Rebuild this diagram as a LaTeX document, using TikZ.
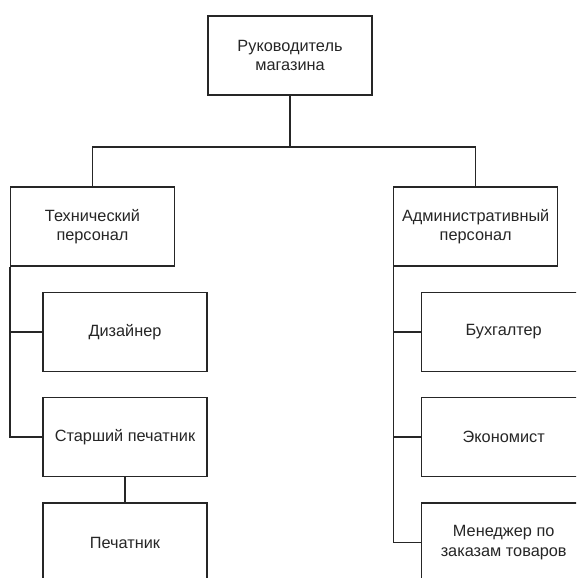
\documentclass[tikz,border=0pt]{standalone}
\usepackage{fontspec}
\setmainfont{Liberation Sans}

\tikzset{
    post/.style={draw=black!85, line width=1.2pt, minimum width=164pt,
        minimum height=79pt, align=center, text=black!85,
        font=\fontsize{16.3}{19.5}\selectfont, inner sep=0pt},
    link/.style={draw=black!85, line width=1.2pt}
}

\begin{document}
\begin{tikzpicture}[x=1pt, y=-1pt]
    \clip (0, 0) rectangle (576, 578);
    \fill[white] (0, 0) rectangle (576, 578);

    \node[post] (boss) at (290, 55.5) {Руководитель\\магазина};

    \node[post] (tech)  at (92.5, 226.5)  {Технический\\персонал};
    \node[post] (admin) at (475.7, 226.5) {Административный\\персонал};

    \node[post] (designer) at (125, 332)   {Дизайнер};
    \node[post] (senior)   at (125, 437)   {Старший печатник};
    \node[post] (printer)  at (125, 542.5) {Печатник};

    \node[post] (accountant) at (503.7, 332)   {Бухгалтер};
    \node[post] (economist)  at (503.7, 437)   {Экономист};
    \node[post] (manager)    at (503.7, 542.5) {Менеджер по\\заказам товаров};

    \coordinate (hub) at (290, 147);
    \draw[link] (boss.south) -- (hub);
    \draw[link] (tech.north) |- (hub) -| (admin.north);

    \draw[link] (tech.south west) |- (senior.west);
    \draw[link] (tech.south west |- designer.west) -- (designer.west);
    \draw[link] (senior.south) -- (printer.north);

    \draw[link] (admin.south west) |- (manager.west);
    \foreach \n in {accountant, economist} {
        \draw[link] (admin.south west |- \n.west) -- (\n.west);
    }

    \end{tikzpicture}
\end{document}
